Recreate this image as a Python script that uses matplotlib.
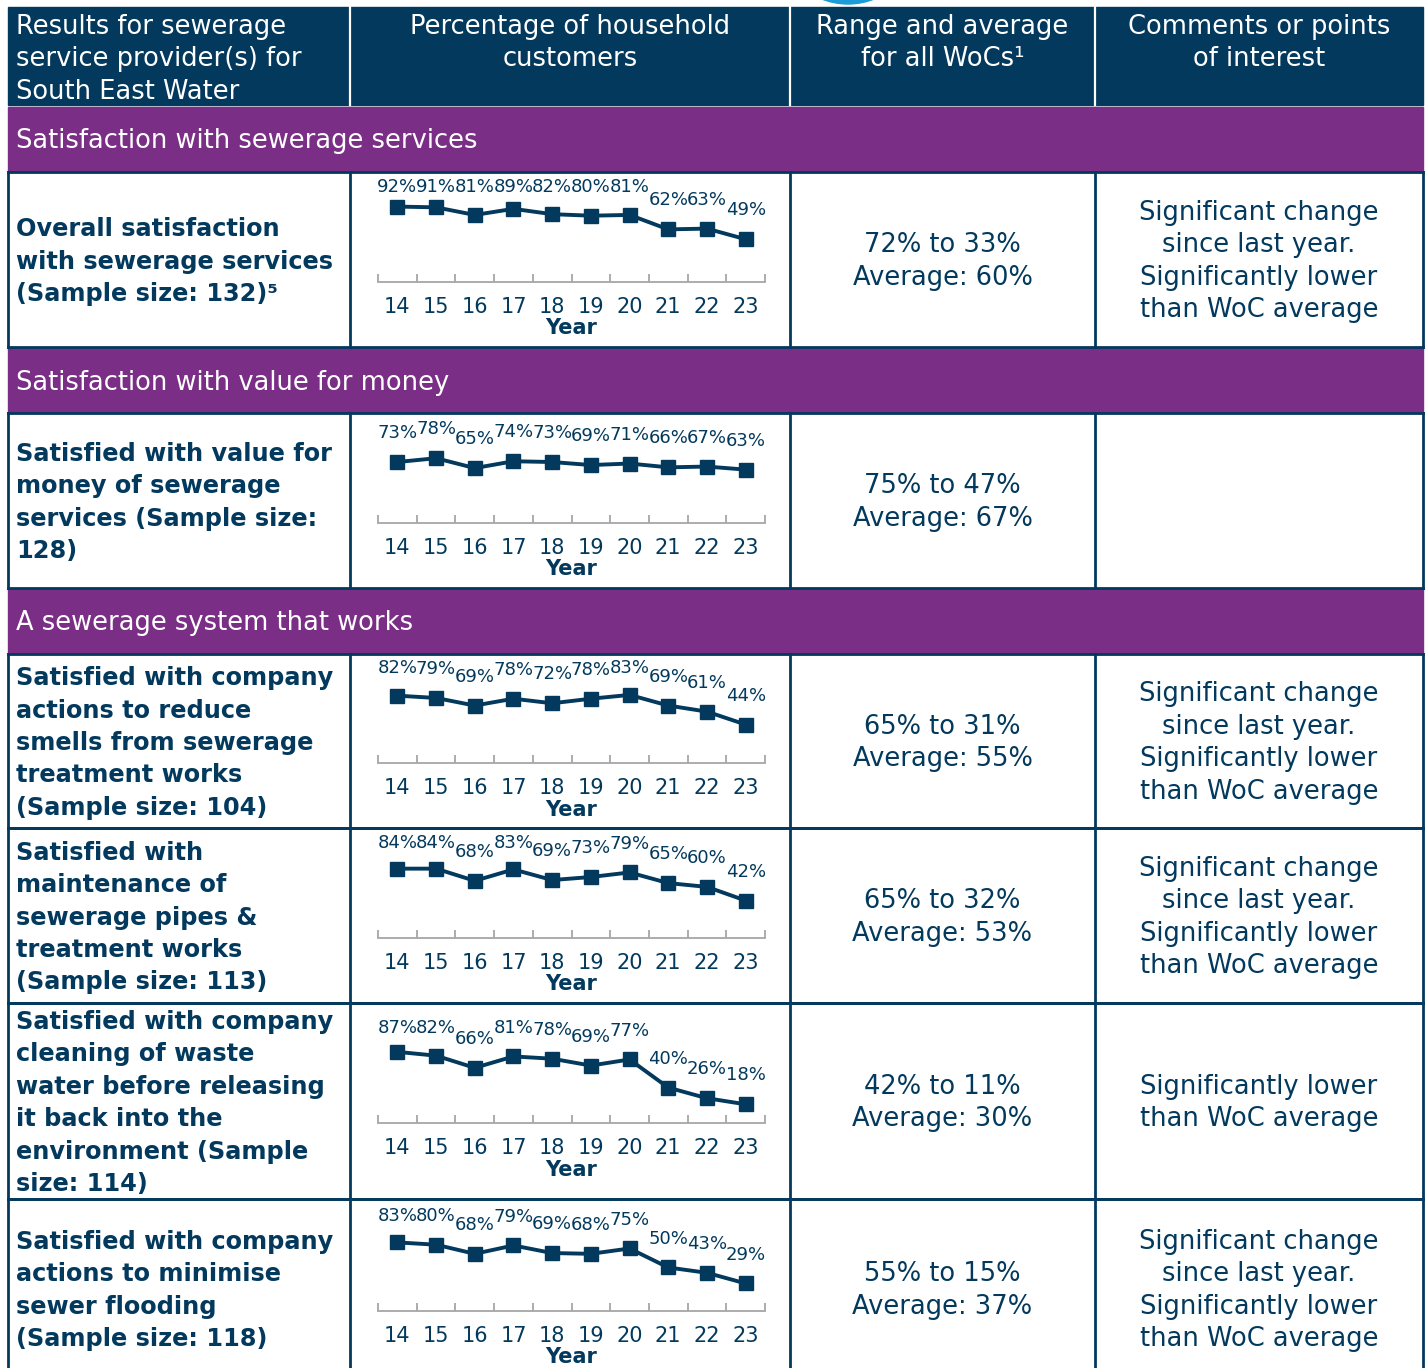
import matplotlib
matplotlib.use('Agg')
import matplotlib.pyplot as plt
from matplotlib.patches import Rectangle, Circle

W, H = 1428, 1368
NAVY = '#02395D'
PURPLE = '#7B2E86'
GREY = '#A6A6A6'
plt.rcParams['font.family'] = ['DejaVu Sans']

# data
years = ['14', '15', '16', '17', '18', '19', '20', '21', '22', '23']
overall = [92, 91, 81, 89, 82, 80, 81, 62, 63, 49]
value_money = [73, 78, 65, 74, 73, 69, 71, 66, 67, 63]
smells = [82, 79, 69, 78, 72, 78, 83, 69, 61, 44]
maintenance = [84, 84, 68, 83, 69, 73, 79, 65, 60, 42]
cleaning = [87, 82, 66, 81, 78, 69, 77, 40, 26, 18]
flooding = [83, 80, 68, 79, 69, 68, 75, 50, 43, 29]

headers = [
    ['Results for sewerage', 'service provider(s) for', 'South East Water'],
    ['Percentage of household', 'customers'],
    ['Range and average', 'for all WoCs\u00b9'],
    ['Comments or points', 'of interest'],
]
sections = ['Satisfaction with sewerage services',
            'Satisfaction with value for money',
            'A sewerage system that works']

measures = [
    ['Overall satisfaction', 'with sewerage services', '(Sample size: 132)\u2075'],
    ['Satisfied with value for', 'money of sewerage', 'services (Sample size:', '128)'],
    ['Satisfied with company', 'actions to reduce', 'smells from sewerage', 'treatment works', '(Sample size: 104)'],
    ['Satisfied with', 'maintenance of', 'sewerage pipes &', 'treatment works', '(Sample size: 113)'],
    ['Satisfied with company', 'cleaning of waste', 'water before releasing', 'it back into the', 'environment (Sample', 'size: 114)'],
    ['Satisfied with company', 'actions to minimise', 'sewer flooding', '(Sample size: 118)'],
]
series = [overall, value_money, smells, maintenance, cleaning, flooding]
ranges = [
    ['72% to 33%', 'Average: 60%'],
    ['75% to 47%', 'Average: 67%'],
    ['65% to 31%', 'Average: 55%'],
    ['65% to 32%', 'Average: 53%'],
    ['42% to 11%', 'Average: 30%'],
    ['55% to 15%', 'Average: 37%'],
]
sig = ['Significant change', 'since last year.', 'Significantly lower', 'than WoC average']
comments = [sig, [], sig, sig, ['Significantly lower', 'than WoC average'], sig]

# layout (pixels)
X0, X1 = 8, 1423
COLS = [8, 350, 790, 1095, 1423]
HEAD = (7, 105)
SECT = [(107, 172), (348, 413), (589, 654)]
ROWS = [(172, 347), (413, 588), (654, 828), (828, 1003), (1003, 1199), (1199, 1378)]
LH = 32.5

fig = plt.figure(figsize=(W / 100, H / 100), dpi=100)
bg = fig.add_axes([0, 0, 1, 1])
bg.set_xlim(0, W)
bg.set_ylim(H, 0)
bg.axis('off')


def lines(x, yc, txt, ha, size, weight='normal', color=NAVY):
    n = len(txt)
    for i, s in enumerate(txt):
        y = yc + (i - (n - 1) / 2) * LH
        bg.text(x, y + 9, s, ha=ha, va='baseline', fontsize=size,
                fontweight=weight, color=color)


# blue badge at top
bg.add_patch(Circle((848, -67), 71, color='#1B9BD8', zorder=0))

# header
bg.add_patch(Rectangle((X0, HEAD[0]), X1 - X0, HEAD[1] - HEAD[0], color=NAVY))
for c in COLS[1:-1]:
    bg.plot([c, c], [HEAD[0], HEAD[1]], color='white', lw=1.6)
lines(16, 25 + LH, headers[0], 'left', 18.5, color='white')
for k in range(1, 4):
    cx = (COLS[k] + COLS[k + 1]) / 2
    lines(cx, 25 + LH / 2, headers[k], 'center', 18.5, color='white')

# section bars
for (t, b), s in zip(SECT, sections):
    bg.add_patch(Rectangle((X0, t), X1 - X0, b - t, color=PURPLE))
    bg.text(16, (t + b) / 2 + 9, s, ha='left', va='baseline', fontsize=18.5, color='white')

# data rows
for r, (t, b) in enumerate(ROWS):
    yc = (t + b) / 2
    bg.plot([X0, X1], [t, t], color=NAVY, lw=2)
    bg.plot([X0, X1], [b, b], color=NAVY, lw=2)
    for c in COLS:
        bg.plot([c, c], [t, b], color=NAVY, lw=2)
    lines(16, yc, measures[r], 'left', 17.3, weight='bold')
    lines((COLS[2] + COLS[3]) / 2, yc, ranges[r], 'center', 18.5)
    if comments[r]:
        lines((COLS[3] + COLS[4]) / 2, yc, comments[r], 'center', 18.5)

    # sparkline
    axis_y = yc + 22
    ax = fig.add_axes([378 / W, 1 - axis_y / H, 387 / W, 100 / H])
    ax.patch.set_alpha(0)
    vals = series[r]
    xs = list(range(len(years)))
    ax.plot(xs, vals, color=NAVY, lw=2.8, marker='s', markersize=10)
    for i, v in enumerate(vals):
        ax.text(i, min(v + 38, 118), f'{v}%', ha='center', va='center',
                fontsize=13, color=NAVY)
    ax.set_xlim(-0.5, len(years) - 0.5)
    ax.set_ylim(-6.6, 125)
    for sp in ['top', 'left', 'right']:
        ax.spines[sp].set_visible(False)
    ax.spines['bottom'].set_color(GREY)
    ax.spines['bottom'].set_linewidth(1.3)
    ax.set_yticks([])
    ax.set_xticks(xs)
    ax.set_xticklabels(years, fontsize=15, color=NAVY)
    ax.set_xticks([i - 0.5 for i in range(len(years) + 1)], minor=True)
    ax.tick_params(axis='x', which='major', length=0, pad=11)
    ax.tick_params(axis='x', which='minor', length=6, direction='in',
                   color=GREY, width=1.3)
    ax.set_xlabel('Year', fontsize=15, fontweight='bold', color=NAVY, labelpad=1)

fig.savefig('out.png', dpi=100)
